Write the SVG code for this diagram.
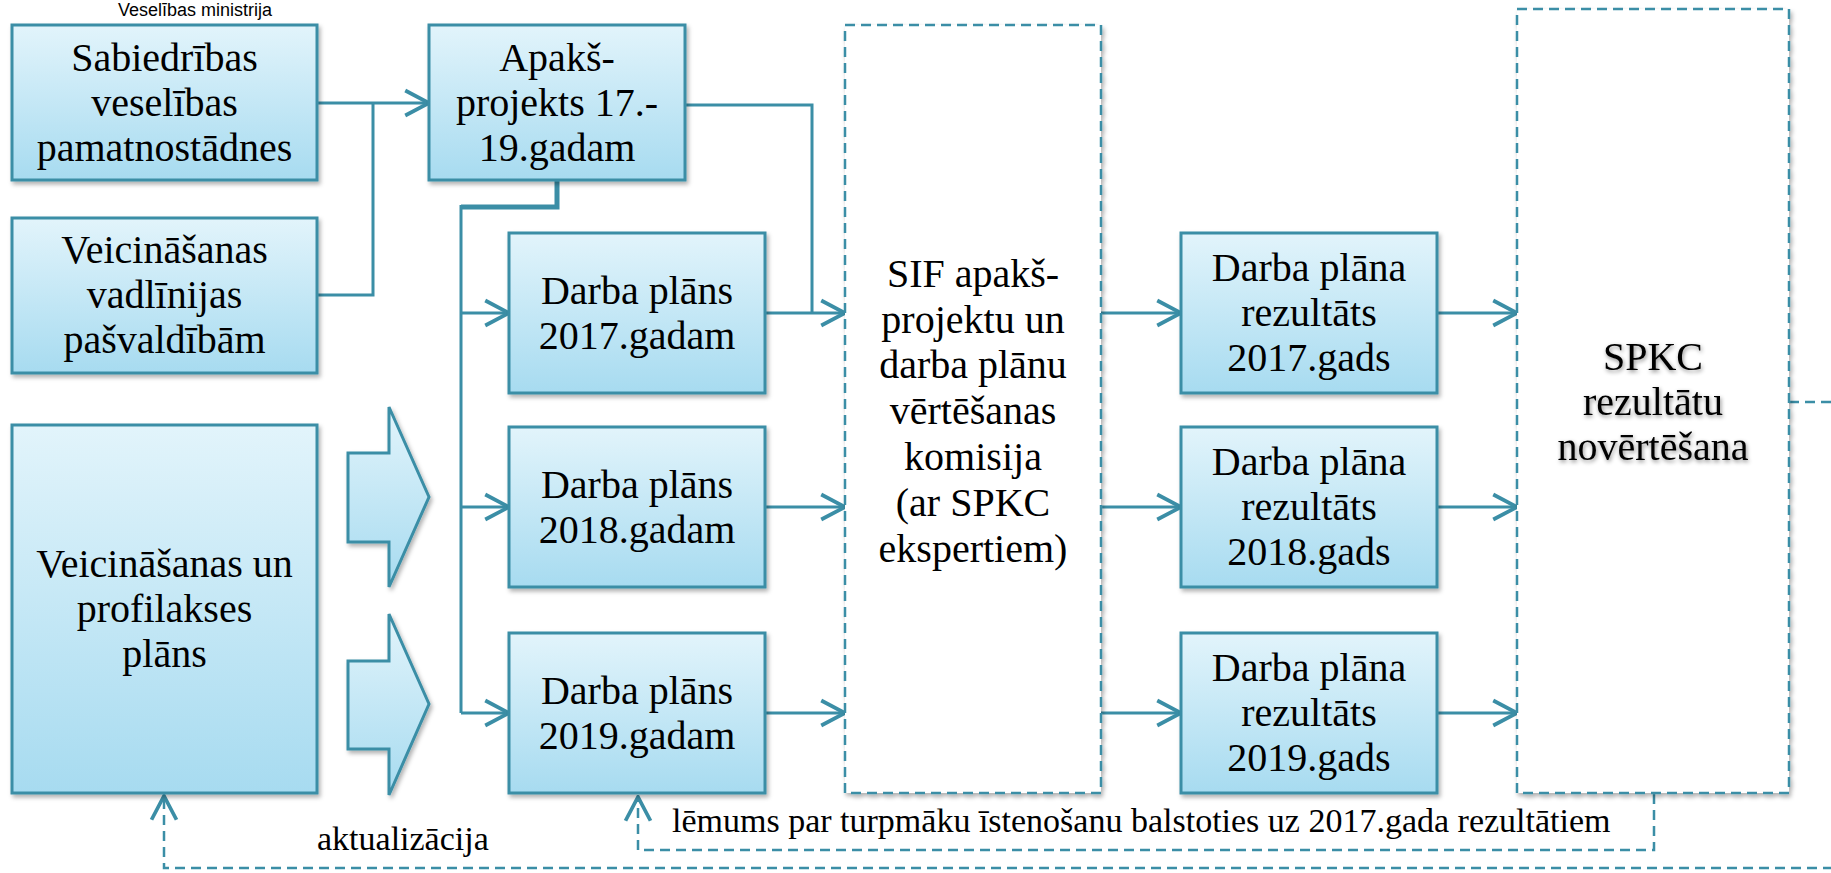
<svg xmlns="http://www.w3.org/2000/svg" width="1831" height="873" viewBox="0 0 1831 873">
<defs>
<linearGradient id="g" x1="0" y1="0" x2="0" y2="1">
<stop offset="0" stop-color="#e2f4fb"/>
<stop offset="1" stop-color="#a7dbf0"/>
</linearGradient>
<filter id="sh" x="-10%" y="-10%" width="130%" height="130%">
<feDropShadow dx="2" dy="3" stdDeviation="2" flood-color="#000" flood-opacity="0.3"/>
</filter>
<filter id="tsh" x="-10%" y="-20%" width="130%" height="150%">
<feDropShadow dx="1" dy="2" stdDeviation="2" flood-color="#000" flood-opacity="0.45"/>
</filter>
<marker id="ar" markerUnits="userSpaceOnUse" markerWidth="30" markerHeight="30" viewBox="-22 -12 24 24" refX="0" refY="0" orient="auto">
<path d="M-19,-10 L0,0 L-19,10" fill="none" stroke="#3b8ea6" stroke-width="3"/>
</marker>
<style>
.box{fill:url(#g);stroke:#3b8ea6;stroke-width:3;filter:url(#sh)}
.dbox{fill:#fff;stroke:#3b8ea6;stroke-width:2.5;stroke-dasharray:10 6;filter:url(#sh)}
.t{font-family:"Liberation Serif",serif;font-size:40px;fill:#000;text-anchor:middle}
.lbl{font-family:"Liberation Serif",serif;font-size:34px;fill:#000}
.c{fill:none;stroke:#3b8ea6;stroke-width:3}
.d{fill:none;stroke:#3b8ea6;stroke-width:2.5;stroke-dasharray:10 6}
</style>
</defs>
<rect width="1831" height="873" fill="#fff"/>
<text x="195" y="16" font-family="Liberation Sans, sans-serif" font-size="18" text-anchor="middle" fill="#000">Veselības ministrija</text>

<g id="connectors">
<path class="c" d="M317,103 H429" marker-end="url(#ar)"/>
<path class="c" d="M317,295 H373 V103"/>
<path class="c" d="M685,105 H812 V313"/>
<path d="M557,180 V207 H461" fill="none" stroke="#3b8ea6" stroke-width="5"/>
<path class="c" d="M461,205 V713"/>
<path class="c" d="M461,313 H509" marker-end="url(#ar)"/>
<path class="c" d="M461,507 H509" marker-end="url(#ar)"/>
<path class="c" d="M461,713 H509" marker-end="url(#ar)"/>
<path class="c" d="M765,313 H845" marker-end="url(#ar)"/>
<path class="c" d="M765,507 H845" marker-end="url(#ar)"/>
<path class="c" d="M765,713 H845" marker-end="url(#ar)"/>
<path class="c" d="M1101,313 H1181" marker-end="url(#ar)"/>
<path class="c" d="M1101,507 H1181" marker-end="url(#ar)"/>
<path class="c" d="M1101,713 H1181" marker-end="url(#ar)"/>
<path class="c" d="M1437,313 H1517" marker-end="url(#ar)"/>
<path class="c" d="M1437,507 H1517" marker-end="url(#ar)"/>
<path class="c" d="M1437,713 H1517" marker-end="url(#ar)"/>
<path class="d" d="M1654,794 V850 H638 V797" marker-end="url(#ar)"/>
<path class="d" d="M1789,402 H1850 V868 H164 V796" marker-end="url(#ar)"/>
</g>

<g id="n-sabiedribas">
<rect class="box" x="12" y="25" width="305" height="155"/>
<text class="t"><tspan x="164.5" y="71">Sabiedrības</tspan><tspan x="164.5" y="116">veselības</tspan><tspan x="164.5" y="161">pamatnostādnes</tspan></text>
</g>
<g id="n-vadlinijas">
<rect class="box" x="12" y="218" width="305" height="155"/>
<text class="t"><tspan x="164.5" y="263">Veicināšanas</tspan><tspan x="164.5" y="308">vadlīnijas</tspan><tspan x="164.5" y="353">pašvaldībām</tspan></text>
</g>
<g id="n-plans">
<rect class="box" x="12" y="425" width="305" height="368"/>
<text class="t"><tspan x="164.5" y="577">Veicināšanas un</tspan><tspan x="164.5" y="622">profilakses</tspan><tspan x="164.5" y="667">plāns</tspan></text>
</g>
<g id="n-blockarrow1">
<polygon class="box" points="348,453 389,453 389,407 429,497 389,587 389,542 348,542" stroke-width="2.5"/>
</g>
<g id="n-blockarrow2">
<polygon class="box" points="348,661 389,661 389,614 429,704 389,795 389,749 348,749" stroke-width="2.5"/>
</g>
<g id="n-apaks">
<rect class="box" x="429" y="25" width="256" height="155"/>
<text class="t"><tspan x="557" y="71">Apakš-</tspan><tspan x="557" y="116">projekts 17.-</tspan><tspan x="557" y="161">19.gadam</tspan></text>
</g>
<g id="n-dp2017">
<rect class="box" x="509" y="233" width="256" height="160"/>
<text class="t"><tspan x="637" y="304">Darba plāns</tspan><tspan x="637" y="349">2017.gadam</tspan></text>
</g>
<g id="n-dp2018">
<rect class="box" x="509" y="427" width="256" height="160"/>
<text class="t"><tspan x="637" y="498">Darba plāns</tspan><tspan x="637" y="543">2018.gadam</tspan></text>
</g>
<g id="n-dp2019">
<rect class="box" x="509" y="633" width="256" height="160"/>
<text class="t"><tspan x="637" y="704">Darba plāns</tspan><tspan x="637" y="749">2019.gadam</tspan></text>
</g>
<g id="n-sif">
<rect class="dbox" x="845" y="25" width="256" height="768"/>
<text class="t"><tspan x="973" y="287">SIF apakš-</tspan><tspan x="973" y="333">projektu un</tspan><tspan x="973" y="378">darba plānu</tspan><tspan x="973" y="424">vērtēšanas</tspan><tspan x="973" y="470">komisija</tspan><tspan x="973" y="516">(ar SPKC</tspan><tspan x="973" y="562">ekspertiem)</tspan></text>
</g>
<g id="n-r2017">
<rect class="box" x="1181" y="233" width="256" height="160"/>
<text class="t"><tspan x="1309" y="281">Darba plāna</tspan><tspan x="1309" y="326">rezultāts</tspan><tspan x="1309" y="371">2017.gads</tspan></text>
</g>
<g id="n-r2018">
<rect class="box" x="1181" y="427" width="256" height="160"/>
<text class="t"><tspan x="1309" y="475">Darba plāna</tspan><tspan x="1309" y="520">rezultāts</tspan><tspan x="1309" y="565">2018.gads</tspan></text>
</g>
<g id="n-r2019">
<rect class="box" x="1181" y="633" width="256" height="160"/>
<text class="t"><tspan x="1309" y="681">Darba plāna</tspan><tspan x="1309" y="726">rezultāts</tspan><tspan x="1309" y="771">2019.gads</tspan></text>
</g>
<g id="n-spkc">
<rect class="dbox" x="1517" y="9" width="272" height="784"/>
<text class="t" filter="url(#tsh)"><tspan x="1653" y="370">SPKC</tspan><tspan x="1653" y="415">rezultātu</tspan><tspan x="1653" y="460">novērtēšana</tspan></text>
</g>

<g id="labels">
<text class="lbl" x="317" y="850">aktualizācija</text>
<text class="lbl" x="672" y="832">lēmums par turpmāku īstenošanu balstoties uz 2017.gada rezultātiem</text>
</g>
</svg>
